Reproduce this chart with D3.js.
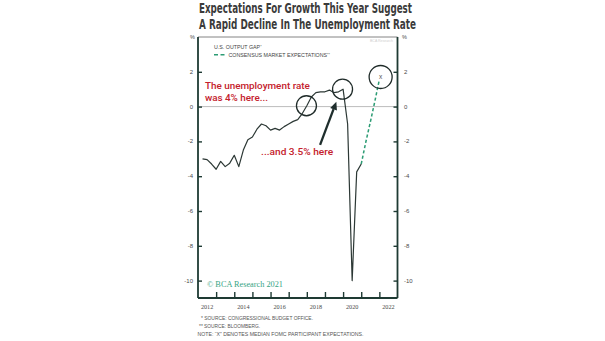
<!DOCTYPE html>
<html>
<head>
<meta charset="utf-8">
<script src="https://cdn.jsdelivr.net/npm/d3@7"></script>
<style>
  html, body { margin: 0; padding: 0; background: #fff; }
  svg { display: block; }
</style>
</head>
<body>
<div id="chart"></div>
<script>
// ---- Data ----
const titleLines = ["Expectations For Growth This Year Suggest", "A Rapid Decline In The Unemployment Rate"];
const legendLabels = ["U.S. OUTPUT GAP", "CONSENSUS MARKET EXPECTATIONS"];
const legendMarks = ["*", "**"];
const footnotes = ["* SOURCE: CONGRESSIONAL BUDGET OFFICE.", "** SOURCE: BLOOMBERG.", "NOTE: \u201CX\u201D DENOTES MEDIAN FOMC PARTICIPANT EXPECTATIONS."];
const copyright = "\u00A9 BCA Research 2021";

// U.S. output gap, quarterly (plotted at quarter end)
const gapDates = [2012.25, 2012.5, 2012.75, 2013.0, 2013.25, 2013.5, 2013.75, 2014.0,
                  2014.25, 2014.5, 2014.75, 2015.0, 2015.25, 2015.5, 2015.75, 2016.0,
                  2016.25, 2016.5, 2016.75, 2017.0, 2017.25, 2017.5, 2017.75, 2018.0,
                  2018.25, 2018.5, 2018.75, 2019.0, 2019.25, 2019.5, 2019.75, 2020.0,
                  2020.25, 2020.5, 2020.75, 2021.0];
const gapValues = [-3.0, -3.05, -3.3, -3.6, -3.15, -3.45, -3.25, -2.8,
                   -3.45, -2.5, -1.9, -1.75, -1.3, -1.0, -1.1, -1.35,
                   -1.25, -1.35, -1.15, -1.0, -0.85, -0.75, -0.4, 0.05,
                   0.55, 0.8, 0.85, 0.85, 0.95, 0.8, 0.85, 1.0,
                   -1.0, -10.0, -3.75, -3.3];

// Consensus market expectations
const expDates = [2021.0, 2021.25, 2021.5, 2021.75, 2022.0];
const expValues = [-3.3, -2.05, -0.9, 0.3, 1.55];

// FOMC median "X"
const fomcPoint = [2022.07, 1.7];

// Highlight circles [date, value]
const circleCenters = [[2017.98, 0.05], [2019.97, 1.0], [2022.07, 1.7]];

// Axis ticks
const xTickYears = [2013, 2014, 2015, 2016, 2017, 2018, 2019, 2020, 2021, 2022];
const xLabelYears = [2012, 2014, 2016, 2018, 2020, 2022];
const yTicks = [2, 0, -2, -4, -6, -8, -10];

// Annotations: text anchored at [date, value]
const annoText1 = ["The unemployment rate", "was 4% here..."];
const annoText1Pos = [2012.38, 1.0];
const annoText2 = "...and 3.5% here";
const annoText2Pos = [2015.48, -2.78];
const arrowFrom = [2018.73, -2.2];
const arrowTo = [2019.63, 0.28];

// ---- Layout ----
const W = 605, H = 341;
const svg = d3.select("#chart").append("svg").attr("width", W).attr("height", H);
svg.append("rect").attr("width", W).attr("height", H).attr("fill", "#fff");

const x = d3.scaleLinear().domain([2012, 2023]).range([198, 397.5]);
const y = d3.scaleLinear().domain([-11, 4]).range([298, 37]);

const frameCol = "#1e3a33";
const lineCol = "#2c3835";
const teal = "#2c9c74";
const red = "#c4212c";
const textCol = "#4a4a4a";

// Title
svg.selectAll("text.title").data(titleLines).join("text")
  .attr("class", "title")
  .attr("x", 199)
  .attr("y", (d, i) => 13.3 + i * 15.4)
  .attr("font-family", "'Liberation Sans Narrow', 'DejaVu Sans Condensed', sans-serif")
  .attr("font-weight", "bold")
  .attr("font-size", 13.5)
  .attr("fill", "#3b3b3b")
  .attr("textLength", (d, i) => i === 0 ? 213 : 217)
  .attr("lengthAdjust", "spacingAndGlyphs")
  .text(d => d);

// Top border (thin)
svg.append("line").attr("x1", x.range()[0]).attr("x2", x.range()[1])
  .attr("y1", y(4)).attr("y2", y(4))
  .attr("stroke", "#666").attr("stroke-width", 0.8);

// zero line
svg.append("line").attr("x1", x.range()[0]).attr("x2", x.range()[1])
  .attr("y1", y(0)).attr("y2", y(0))
  .attr("stroke", "#a9a9a9").attr("stroke-width", 0.8);

// Axes (inward ticks)
const gLeft = svg.append("g").attr("transform", `translate(${x.range()[0]},0)`)
  .call(d3.axisRight(y).tickValues(yTicks).tickSize(4).tickFormat(""));
const gRight = svg.append("g").attr("transform", `translate(${x.range()[1]},0)`)
  .call(d3.axisLeft(y).tickValues(yTicks).tickSize(4).tickFormat(""));
const gBottom = svg.append("g").attr("transform", `translate(0,${y(-11)})`)
  .call(d3.axisTop(x).tickValues(xTickYears).tickSize(6).tickFormat(""));
[gLeft, gRight, gBottom].forEach(g => {
  g.select(".domain").attr("stroke", frameCol).attr("stroke-width", 1.8);
  g.selectAll(".tick line").attr("stroke", frameCol).attr("stroke-width", 1.4);
});
gLeft.select(".domain").attr("d", `M0,${y(4)}V${y(-11)}`);
gRight.select(".domain").attr("d", `M0,${y(4)}V${y(-11)}`);
gBottom.select(".domain").attr("d", `M${x.range()[0]},0H${x.range()[1]}`);

// Y labels
const yLabFont = "'Liberation Sans', Arial, sans-serif";
svg.selectAll("text.yl").data(yTicks).join("text").attr("class", "yl")
  .attr("x", 193).attr("y", d => y(d) + 2)
  .attr("text-anchor", "end").attr("font-family", yLabFont).attr("font-size", 6)
  .attr("fill", textCol).text(d => d);
svg.selectAll("text.yr").data(yTicks).join("text").attr("class", "yr")
  .attr("x", 404).attr("y", d => y(d) + 2)
  .attr("text-anchor", "start").attr("font-family", yLabFont).attr("font-size", 6)
  .attr("fill", textCol).text(d => d);
svg.append("text").attr("x", 195).attr("y", y(4) + 1.5).attr("text-anchor", "end")
  .attr("font-family", yLabFont).attr("font-size", 5.5).attr("fill", textCol).text("%");
svg.append("text").attr("x", 402).attr("y", y(4) + 1.5).attr("text-anchor", "start")
  .attr("font-family", yLabFont).attr("font-size", 5.5).attr("fill", textCol).text("%");

// X labels
svg.selectAll("text.xl").data(xLabelYears).join("text").attr("class", "xl")
  .attr("x", d => x(d + 0.5)).attr("y", 308.5)
  .attr("text-anchor", "middle").attr("font-family", "'Liberation Serif', serif")
  .attr("font-size", 6.2).attr("fill", textCol).text(d => d);

// Watermark (faint)
svg.append("text").attr("x", 393).attr("y", 42).attr("text-anchor", "end")
  .attr("font-family", yLabFont).attr("font-size", 3.5).attr("fill", "#d0d0d0").text("BCA Research");

// Lines
const gapData = gapDates.map((d, i) => [d, gapValues[i]]);
const expData = expDates.map((d, i) => [d, expValues[i]]);
const lineGen = d3.line().x(d => x(d[0])).y(d => y(d[1]));

svg.append("path").datum(expData).attr("d", lineGen)
  .attr("fill", "none").attr("stroke", teal).attr("stroke-width", 1.5)
  .attr("stroke-dasharray", "3.2,2.2");
svg.append("path").datum(gapData).attr("d", lineGen)
  .attr("fill", "none").attr("stroke", lineCol).attr("stroke-width", 1.2)
  .attr("stroke-linejoin", "round");

// FOMC X
svg.append("text").attr("x", x(fomcPoint[0])).attr("y", y(fomcPoint[1]) + 2)
  .attr("text-anchor", "middle").attr("font-family", yLabFont).attr("font-size", 6.5)
  .attr("fill", "#555").text("x");

// Circles
const radii = [10, 10, 11.5];
svg.selectAll("circle.hl").data(circleCenters).join("circle").attr("class", "hl")
  .attr("cx", d => x(d[0])).attr("cy", d => y(d[1])).attr("r", (d, i) => radii[i])
  .attr("fill", "none").attr("stroke", "#1f2b29").attr("stroke-width", 1.3);

// Legend
svg.append("text").attr("x", 214).attr("y", 49).attr("font-family", yLabFont)
  .attr("font-size", 5.3).attr("fill", "#444")
  .call(t => { t.append("tspan").text(legendLabels[0]);
               t.append("tspan").attr("font-size", 3.5).attr("dy", -1.5).text(legendMarks[0]); });
svg.append("line").attr("x1", 214).attr("x2", 226).attr("y1", 54.8).attr("y2", 54.8)
  .attr("stroke", teal).attr("stroke-width", 1.5).attr("stroke-dasharray", "4,2.5");
svg.append("text").attr("x", 228.5).attr("y", 57).attr("font-family", yLabFont)
  .attr("font-size", 5.3).attr("fill", "#444")
  .call(t => { t.append("tspan").text(legendLabels[1]);
               t.append("tspan").attr("font-size", 3.5).attr("dy", -1.5).text(legendMarks[1]); });

// Annotations
const annoFont = "Roboto, 'Liberation Sans', sans-serif";
svg.selectAll("text.a1").data(annoText1).join("text").attr("class", "a1")
  .attr("x", x(annoText1Pos[0])).attr("y", (d, i) => y(annoText1Pos[1]) + i * 12.2)
  .attr("font-family", annoFont).attr("font-weight", 500).attr("font-size", 9.6)
  .attr("fill", red)
  .attr("textLength", (d, i) => i === 0 ? 105 : 63).attr("lengthAdjust", "spacingAndGlyphs")
  .text(d => d);
svg.append("text").attr("x", x(annoText2Pos[0])).attr("y", y(annoText2Pos[1]))
  .attr("font-family", annoFont).attr("font-weight", 500).attr("font-size", 9.6)
  .attr("fill", red).attr("textLength", 72).attr("lengthAdjust", "spacingAndGlyphs")
  .text(annoText2);

// Arrow
const ax1 = x(arrowFrom[0]), ay1 = y(arrowFrom[1]);
const ax2 = x(arrowTo[0]), ay2 = y(arrowTo[1]);
const ang = Math.atan2(ay2 - ay1, ax2 - ax1);
const headLen = 8, headW = 3.6;
const bx = ax2 - headLen * Math.cos(ang), by = ay2 - headLen * Math.sin(ang);
svg.append("line").attr("x1", ax1).attr("y1", ay1).attr("x2", bx).attr("y2", by)
  .attr("stroke", "#1f2e2d").attr("stroke-width", 2.3);
svg.append("path")
  .attr("d", `M${ax2},${ay2}L${bx + headW * Math.sin(ang)},${by - headW * Math.cos(ang)}L${bx - headW * Math.sin(ang)},${by + headW * Math.cos(ang)}Z`)
  .attr("fill", "#1f2e2d");

// Copyright
svg.append("text").attr("x", 207).attr("y", 286.5)
  .attr("font-family", "'Liberation Serif', 'DejaVu Serif', serif").attr("font-size", 9)
  .attr("fill", "#36a484").attr("textLength", 76).attr("lengthAdjust", "spacingAndGlyphs")
  .text(copyright);

// Footnotes
const fnX = [201, 199, 197.5];
const fnLen = [112, 61, 166];
svg.selectAll("text.fn").data(footnotes).join("text").attr("class", "fn")
  .attr("x", (d, i) => fnX[i]).attr("y", (d, i) => 319.5 + i * 8)
  .attr("font-family", yLabFont).attr("font-size", 4.8).attr("fill", "#555")
  .attr("textLength", (d, i) => fnLen[i]).attr("lengthAdjust", "spacingAndGlyphs")
  .text(d => d);
</script>
</body>
</html>
